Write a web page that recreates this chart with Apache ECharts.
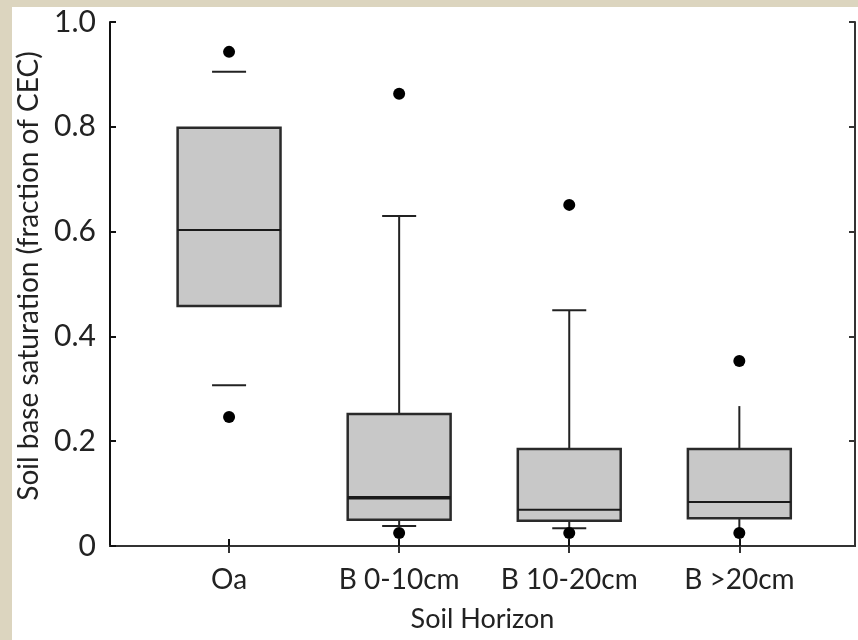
<!DOCTYPE html>
<html>
<head>
<meta charset="utf-8">
<script src="https://cdn.jsdelivr.net/npm/echarts@6/dist/echarts.min.js"></script>
<style>
  html, body { margin: 0; padding: 0; width: 858px; height: 640px; background: #DCD5BF; overflow: hidden; }
  #chart { position: absolute; left: 12px; top: 7px; width: 846px; height: 633px; background: #ffffff; }
</style>
</head>
<body>
<div id="chart"></div>
<script>
// ---- data ----
const categories = ['Oa', 'B 0-10cm', 'B 10-20cm', 'B >20cm'];
const positions = [1, 2, 3, 4];
const whiskerLow = [0.307, 0.038, 0.034, 0.025];
const q1 = [0.458, 0.050, 0.048, 0.053];
const median = [0.603, 0.092, 0.069, 0.084];
const q3 = [0.798, 0.252, 0.185, 0.185];
const whiskerHigh = [0.905, 0.630, 0.450, 0.267];
const outliers = [
  [1, 0.943], [1, 0.246],
  [2, 0.863], [2, 0.025],
  [3, 0.651], [3, 0.025],
  [4, 0.353], [4, 0.025]
];
const yTicks = [0, 0.2, 0.4, 0.6, 0.8, 1.0];

// ---- styling (not data) ----
const drawWhiskerLine = [false, true, true, true];
const drawCaps = [true, true, true, false];
const medianWidth = [2, 3.5, 2, 2];
const boxWidthUnits = 0.605;
const capWidthUnits = 0.2;
const fontFam = 'Lato, "Noto Sans", sans-serif';

const boxData = positions.map((p, i) => [p, whiskerLow[i], q1[i], median[i], q3[i], whiskerHigh[i]]);

const chart = echarts.init(document.getElementById('chart'), null, { renderer: 'canvas' });

function renderBox(params, api) {
  const i = params.dataIndex;
  const x = api.value(0);
  const lo = api.coord([x, api.value(1)]);
  const b1 = api.coord([x, api.value(2)]);
  const md = api.coord([x, api.value(3)]);
  const b3 = api.coord([x, api.value(4)]);
  const hi = api.coord([x, api.value(5)]);
  const bw = api.size([boxWidthUnits, 0])[0];
  const cw = api.size([capWidthUnits, 0])[0];
  const cx = lo[0];
  const children = [];
  const lineStyle = { stroke: '#222', lineWidth: 2 };
  if (drawWhiskerLine[i]) {
    children.push({ type: 'line', shape: { x1: cx, y1: b3[1], x2: cx, y2: hi[1] }, style: lineStyle });
    children.push({ type: 'line', shape: { x1: cx, y1: b1[1], x2: cx, y2: lo[1] }, style: lineStyle });
  }
  if (drawCaps[i]) {
    children.push({ type: 'line', shape: { x1: cx - cw / 2, y1: hi[1], x2: cx + cw / 2, y2: hi[1] }, style: lineStyle });
    children.push({ type: 'line', shape: { x1: cx - cw / 2, y1: lo[1], x2: cx + cw / 2, y2: lo[1] }, style: lineStyle });
  }
  children.push({
    type: 'rect',
    shape: { x: cx - bw / 2, y: b3[1], width: bw, height: b1[1] - b3[1] },
    style: { fill: '#c8c8c8', stroke: '#2a2a2a', lineWidth: 2.5 }
  });
  children.push({ type: 'line', shape: { x1: cx - bw / 2, y1: md[1], x2: cx + bw / 2, y2: md[1] }, style: { stroke: '#1a1a1a', lineWidth: medianWidth[i] } });
  return { type: 'group', children: children };
}

const option = {
  animation: false,
  grid: { left: 98, right: 3, top: 15, bottom: 94, containLabel: false, outerBoundsMode: 'none' },
  xAxis: [
    {
      type: 'value', min: 0.3, max: 4.68, position: 'bottom',
      name: 'Soil Horizon', nameLocation: 'middle', nameGap: 60,
      nameTextStyle: { fontFamily: fontFam, fontSize: 27, color: '#222' },
      axisLine: { show: true, lineStyle: { color: '#111', width: 2 } },
      axisTick: { show: true, inside: true, length: 7, customValues: positions, lineStyle: { color: '#111', width: 2 } },
      axisLabel: { show: true, customValues: positions, margin: 20, fontFamily: fontFam, fontSize: 28, color: '#222',
        formatter: v => categories[Math.round(v) - 1] || '' },
      splitLine: { show: false }
    },
    {
      type: 'value', min: 0.3, max: 4.68, position: 'top',
      axisLine: { show: true, lineStyle: { color: '#333', width: 2 } },
      axisTick: { show: true, inside: true, length: 7, customValues: positions, lineStyle: { color: '#333', width: 2 } },
      axisLabel: { show: false },
      splitLine: { show: false }
    }
  ],
  yAxis: [
    {
      type: 'value', min: 0, max: 1, interval: 0.2, position: 'left',
      name: 'Soil base saturation (fraction of CEC)', nameLocation: 'middle', nameGap: 67, nameRotate: 90,
      nameTextStyle: { fontFamily: fontFam, fontSize: 28, color: '#222', padding: [0, 0, 0, 16] },
      axisLine: { show: true, lineStyle: { color: '#111', width: 2 } },
      axisTick: { show: true, inside: true, length: 6, lineStyle: { color: '#111', width: 2 } },
      axisLabel: { show: true, margin: 14, fontFamily: fontFam, fontSize: 30, color: '#222',
        formatter: v => (v === 0 ? '0' : v.toFixed(1)) },
      splitLine: { show: false }
    },
    {
      type: 'value', min: 0, max: 1, interval: 0.2, position: 'right',
      axisLine: { show: true, lineStyle: { color: '#333', width: 2 } },
      axisTick: { show: true, inside: true, length: 6, lineStyle: { color: '#333', width: 2 } },
      axisLabel: { show: false },
      splitLine: { show: false }
    }
  ],
  series: [
    {
      type: 'custom',
      xAxisIndex: 0, yAxisIndex: 0,
      renderItem: renderBox,
      encode: { x: 0, y: [1, 2, 3, 4, 5] },
      data: boxData,
      z: 2
    },
    {
      type: 'scatter',
      xAxisIndex: 0, yAxisIndex: 0,
      data: outliers,
      symbol: 'circle', symbolSize: 12,
      itemStyle: { color: '#000', opacity: 1 },
      z: 3
    }
  ]
};
chart.setOption(option);
</script>
</body>
</html>
